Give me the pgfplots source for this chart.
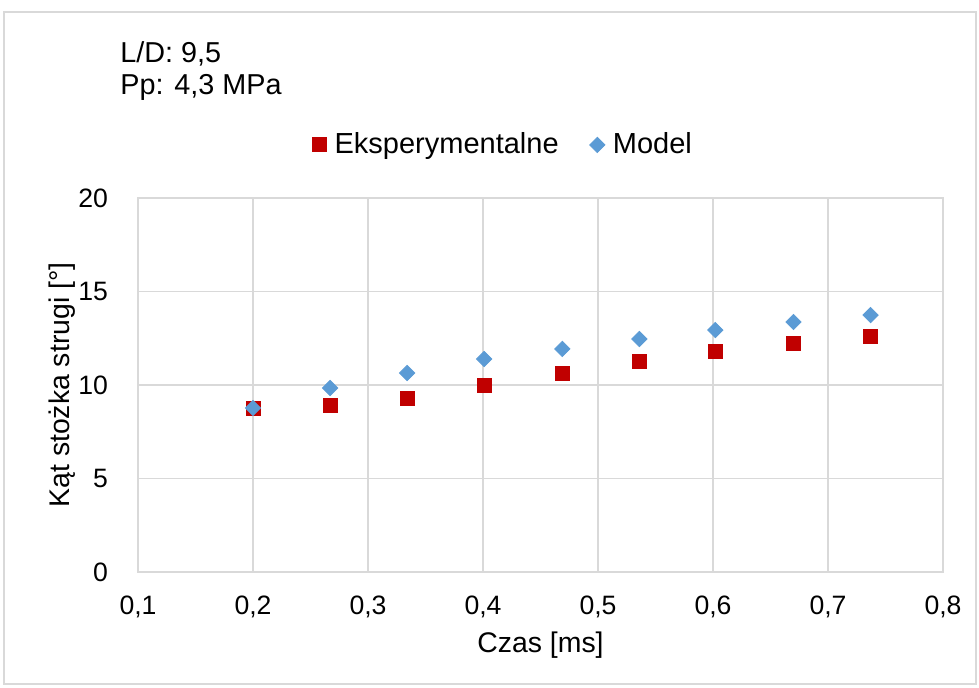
\documentclass[border=0pt]{standalone}
\usepackage{pgfplots}
\pgfplotsset{compat=1.18}
\usepackage{fontspec}
\setmainfont{Liberation Sans}
\definecolor{expred}{HTML}{C00000}
\definecolor{modblue}{HTML}{5B9BD5}
\definecolor{gridgray}{HTML}{D9D9D9}
\begin{document}
\fontsize{14.4}{17}\selectfont
\begin{tikzpicture}
\path[use as bounding box] (0,0) rectangle (489.5pt,343.5pt);
\draw[gridgray, line width=0.6pt] (2pt,1.5pt) rectangle (488pt,337.5pt);
\node[anchor=base west, inner sep=0pt] at (60pt,312pt) {L/D: 9,5};
\node[anchor=base west, inner sep=0pt] at (60pt,296pt) {Pp: 4,3 MPa};
\begin{axis}[
  at={(69pt,57.5pt)}, anchor=south west,
  scale only axis, width=402.5pt, height=187pt,
  xmin=0.1, xmax=0.8, ymin=0, ymax=20,
  xtick={0.1,0.2,0.3,0.4,0.5,0.6,0.7,0.8},
  ytick={0,5,10,15,20},
  grid=major,
  major grid style={gridgray, line width=0.75pt},
  axis line style={gridgray, line width=0.75pt},
  major tick length=0pt,
  /pgf/number format/assume math mode=true,
  /pgf/number format/use comma,
  xticklabel style={/pgf/number format/fixed, /pgf/number format/fixed zerofill, /pgf/number format/precision=1, yshift=-7pt},
  yticklabel style={xshift=-10pt},
  tick label style={font=\fontsize{13.3}{15}\selectfont},
  label style={font=\fontsize{14.2}{17}\selectfont},
  xlabel={Czas [ms]},
  ylabel={Kąt stożka strugi [°]},
  xlabel style={at={(axis description cs:0.5,-0.195)}, anchor=center},
  ylabel style={at={(axis description cs:-0.094,0.5)}, anchor=center},
  legend style={draw=none, at={(axis description cs:0.455,1.142)}, anchor=center, legend columns=2,
    font=\fontsize{14.5}{17}\selectfont, /tikz/every even column/.append style={column sep=13.5pt},
    /tikz/every odd column/.append style={column sep=2pt},
    legend cell align=left},
  legend image code/.code={\draw[#1] plot coordinates {(0.15cm,0cm)};},
]
\addplot[only marks, mark=square*, mark size=3.5pt, color=expred] coordinates {
(0.200,8.77) (0.267,8.93) (0.334,9.30) (0.401,10.00) (0.469,10.64)
(0.536,11.28) (0.602,11.82) (0.670,12.25) (0.737,12.62)};
\addlegendentry{Eksperymentalne}
\addplot[only marks, mark=square*, mark options={rotate=45}, mark size=2.7pt, color=modblue] coordinates {
(0.200,8.77) (0.267,9.84) (0.334,10.64) (0.401,11.39) (0.469,11.93)
(0.536,12.46) (0.602,12.94) (0.670,13.37) (0.737,13.74)};
\addlegendentry{Model}
\end{axis}
\end{tikzpicture}
\end{document}
